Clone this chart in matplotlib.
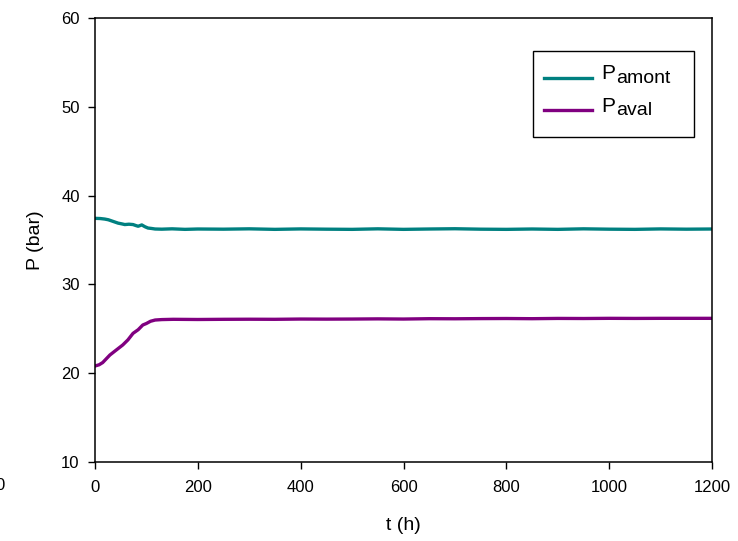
import numpy as np
import matplotlib
matplotlib.use('Agg')
import matplotlib.pyplot as plt
from matplotlib.patches import Rectangle
from matplotlib.lines import Line2D

plt.rcParams['font.family'] = ['Liberation Sans', 'DejaVu Sans']

# valeurs
t_amont = [0, 10, 19, 26, 33, 45, 52, 58, 66, 74, 80, 84, 91, 97, 103, 110, 117, 130, 150,
           175, 200, 250, 300, 350, 400, 450, 500, 550, 600, 650, 700, 750, 800, 850,
           900, 950, 1000, 1050, 1100, 1150, 1200]
p_amont = [37.44, 37.42, 37.36, 37.28, 37.14, 36.9, 36.82, 36.74, 36.78, 36.74, 36.62, 36.55,
           36.7, 36.5, 36.35, 36.3, 36.24, 36.22, 36.26, 36.2, 36.24, 36.22, 36.26, 36.2,
           36.25, 36.22, 36.2, 36.26, 36.2, 36.24, 36.27, 36.22, 36.2, 36.24, 36.2, 36.26,
           36.22, 36.2, 36.25, 36.22, 36.24]

t_aval = [0, 8, 15, 29, 40, 54, 64, 74, 84, 93, 100, 108, 117, 130, 152, 200, 250, 300,
          350, 400, 450, 500, 550, 600, 650, 700, 750, 800, 850, 900, 950, 1000, 1050,
          1100, 1150, 1200]
p_aval = [20.81, 20.95, 21.2, 22.05, 22.55, 23.18, 23.75, 24.49, 24.9, 25.43, 25.6, 25.85,
          25.99, 26.04, 26.07, 26.05, 26.07, 26.08, 26.07, 26.1, 26.09, 26.1, 26.12, 26.1,
          26.14, 26.13, 26.15, 26.16, 26.14, 26.17, 26.16, 26.18, 26.17, 26.18, 26.18, 26.18]

c_amont = '#008080'
c_aval = '#800080'

fig = plt.figure(figsize=(7.38, 5.41), dpi=100)
ax = fig.add_axes([0.1287, 0.146, 0.8361, 0.8207])

ax.plot(t_amont, p_amont, color=c_amont, lw=2.4)
ax.plot(t_aval, p_aval, color=c_aval, lw=2.4)

ax.set_xlim(0, 1200)
ax.set_ylim(10, 60)
ax.set_xticks(np.arange(0, 1201, 200))
ax.set_yticks(np.arange(10, 61, 10))
ax.tick_params(direction='out', length=5, width=1, labelsize=12, top=False, right=False)
ax.tick_params(axis='x', pad=8)
ax.tick_params(axis='y', pad=6)
for s in ax.spines.values():
    s.set_linewidth(1.1)

ax.set_xlabel('t (h)', fontsize=14, labelpad=16)
ax.set_ylabel('P (bar)', fontsize=14, labelpad=12)

# légende faite à la main (indices presque aussi grands que le P)
ax.add_patch(Rectangle((0.710, 0.732), 0.261, 0.1937, transform=ax.transAxes,
                       facecolor='white', edgecolor='black', lw=1.0, zorder=5))
rows = [(0.8649, 0.8626, 'amont', c_amont), (0.7928, 0.7890, 'aval', c_aval)]
for yl, yb, sub, col in rows:
    ax.add_line(Line2D([0.7277, 0.8055], [yl, yl], transform=ax.transAxes,
                       color=col, lw=2.4, zorder=6))
    ax.text(0.8200, yb, 'P', transform=ax.transAxes, fontsize=15,
            va='baseline', ha='left', zorder=6)
    ax.text(0.8440, yb - 0.008, sub, transform=ax.transAxes, fontsize=14,
            va='baseline', ha='left', zorder=6)

fig.text(0.0, 0.1035, '0', fontsize=12, ha='center', va='center')

fig.savefig('out.png', dpi=100)
